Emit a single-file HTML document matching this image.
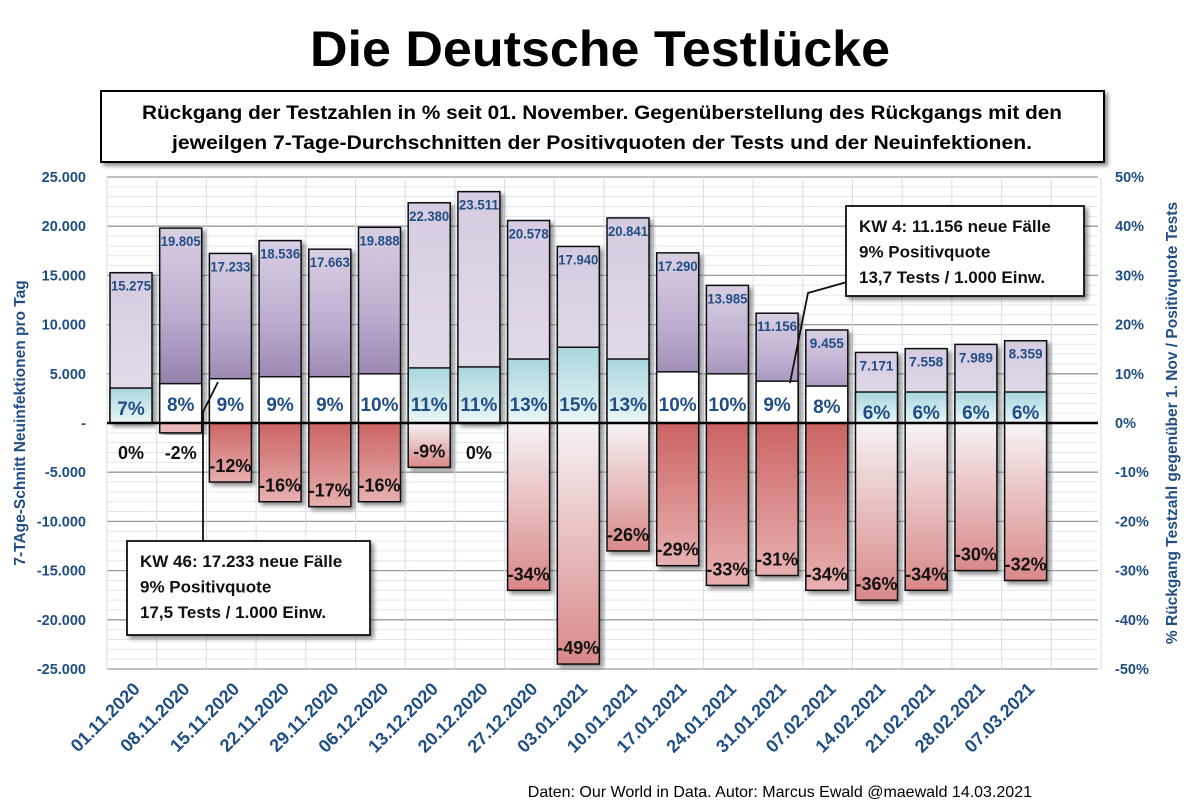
<!DOCTYPE html>
<html><head><meta charset="utf-8"><style>
body{margin:0;background:#fff;}
svg{display:block;font-family:"Liberation Sans",sans-serif;}
</style></head><body>
<svg id="chart" width="1200" height="804" viewBox="0 0 1200 804">
<defs>
<linearGradient id="purpleDark" x1="0" y1="0" x2="0" y2="1"><stop offset="0" stop-color="#d9cfe3"/><stop offset="0.45" stop-color="#bcaccf"/><stop offset="1" stop-color="#7f6a99"/></linearGradient>
<linearGradient id="purpleLight" x1="0" y1="0" x2="0" y2="1"><stop offset="0" stop-color="#d6cbe1"/><stop offset="1" stop-color="#e6dfec"/></linearGradient>
<linearGradient id="blueBox" x1="0" y1="0" x2="0" y2="1"><stop offset="0" stop-color="#a9d6de"/><stop offset="1" stop-color="#eaf5f7"/></linearGradient>
<linearGradient id="redStrong" x1="0" y1="0" x2="0" y2="1"><stop offset="0" stop-color="#cc6464"/><stop offset="1" stop-color="#e8b0b0"/></linearGradient>
<linearGradient id="redLight" x1="0" y1="0" x2="0" y2="1"><stop offset="0" stop-color="#f6f2f4"/><stop offset="1" stop-color="#d98888"/></linearGradient>
<filter id="sh" x="-10%" y="-10%" width="130%" height="130%"><feDropShadow dx="3" dy="3" stdDeviation="2" flood-color="#000" flood-opacity="0.45"/></filter>
</defs>
<text x="600" y="66" text-anchor="middle" font-size="50" font-weight="bold" textLength="580" lengthAdjust="spacingAndGlyphs">Die Deutsche Testlücke</text>
<rect x="101" y="91" width="1003" height="71" fill="#fff" stroke="#000" stroke-width="2" filter="url(#sh)"/>
<text x="602" y="119" text-anchor="middle" font-size="19" font-weight="bold" textLength="920" lengthAdjust="spacingAndGlyphs">Rückgang  der Testzahlen in % seit 01. November. Gegenüberstellung des Rückgangs mit den</text>
<text x="602" y="149" text-anchor="middle" font-size="19" font-weight="bold" textLength="860" lengthAdjust="spacingAndGlyphs">jeweilgen 7-Tage-Durchschnitten der Positivquoten der Tests und der Neuinfektionen.</text>
<g id="grid"></g>
<g id="bars"></g>
<g id="labels"></g>
<g id="axes"></g>
<text x="1032" y="797" text-anchor="end" font-size="16">Daten: Our World in Data. Autor: Marcus Ewald @maewald 14.03.2021</text>
</svg>
<script>
const categories=["01.11.2020","08.11.2020","15.11.2020","22.11.2020","29.11.2020","06.12.2020","13.12.2020","20.12.2020","27.12.2020","03.01.2021","10.01.2021","17.01.2021","24.01.2021","31.01.2021","07.02.2021","14.02.2021","21.02.2021","28.02.2021","07.03.2021"];
const cases=[15275,19805,17233,18536,17663,19888,22380,23511,20578,17940,20841,17290,13985,11156,9455,7171,7558,7989,8359];
const positivity=[7.1,8,9,9.4,9.4,10,11.2,11.4,13,15.4,13,10.4,10,8.5,7.5,6.3,6.3,6.3,6.3];
const testDecline=[0,-2,-12,-16,-17,-16,-9,0,-34,-49,-26,-29,-33,-31,-34,-36,-34,-30,-32];
const leftTicks=[25000,20000,15000,10000,5000,0,-5000,-10000,-15000,-20000,-25000];
const rightTicks=[50,40,30,20,10,0,-10,-20,-30,-40,-50];

const NS="http://www.w3.org/2000/svg";
const X0=107,SLOT=49.7,BW=42,Y0=423,PX_PER=492/50000;
const yL=v=>Y0-v*PX_PER;
const yR=p=>Y0-p*4.92;
const xL=i=>X0+i*SLOT+3;
const fmt=n=>n===0?"-":(n<0?"-":"")+Math.abs(n).toLocaleString("de-DE");
function mk(tag,attrs,parent,text){const e=document.createElementNS(NS,tag);for(const k in attrs)e.setAttribute(k,attrs[k]);if(text!==undefined)e.textContent=text;parent.appendChild(e);return e;}
const grid=document.getElementById("grid"),bars=document.getElementById("bars"),labels=document.getElementById("labels"),axes=document.getElementById("axes");
const BLUE="#1f4e85";
for(let v=-25000;v<=25000;v+=1000){
  const l=mk("line",{x1:X0,x2:1098,y1:yL(v),y2:yL(v),stroke:v%5000===0?"#9a9a9a":"#e3e6ee","stroke-width":v%5000===0?1.3:1},grid);
  
  
}
for(let i=0;i<=20;i++){
  const l=mk("line",{x1:X0+i*SLOT,x2:X0+i*SLOT,y1:yL(25000),y2:yL(-25000),stroke:"#d3deec","stroke-width":1},grid);
  
  
}
const blueIdx=p=>[0,6,7,8,9,10,15,16,17,18].includes(p);
const redStrongIdx=[1,2,3,4,5,11,12,13,14];
categories.forEach((c,i)=>{
  const x=xL(i),cx=x+BW/2;
  const isBlue=blueIdx(i);
  const top=yL(cases[i]);
  const r=mk("rect",{x:x,y:top,width:BW,height:Y0-top,fill:isBlue?"url(#purpleLight)":"url(#purpleDark)",stroke:"#111","stroke-width":1.5,filter:"url(#sh)"},bars);
  
  
  const pt=yR(positivity[i]);
  const b=mk("rect",{x:x,y:pt,width:BW,height:Y0-pt,fill:isBlue?"url(#blueBox)":"#fff",stroke:"#111","stroke-width":1.5},bars);
  
  
  const d=testDecline[i];
  if(d<0){
    const db=mk("rect",{x:x,y:Y0,width:BW,height:yR(d)-Y0,fill:redStrongIdx.includes(i)?"url(#redStrong)":"url(#redLight)",stroke:"#111","stroke-width":1.5,filter:"url(#sh)"},bars);
    if(i===1)db.setAttribute('fill','#eab8b8');
    
    
  }
  const cl=mk("text",{x:cx,y:top+18,"text-anchor":"middle","font-size":13.5,"font-weight":"bold",fill:BLUE,textLength:cases[i]>=10000?40:34,lengthAdjust:"spacingAndGlyphs"},labels,cases[i].toLocaleString("de-DE"));
  
  
  const pl=mk("text",{x:cx,y:Math.max(pt+27,411),"text-anchor":"middle","font-size":19,"font-weight":"bold",fill:BLUE},labels,Math.round(positivity[i])+"%");
  
  
  const bottom=yR(d);
  let ly=(d>-5)?Y0+36:bottom-10;
  if(d===-2) ly=Y0+36;
  const dl=mk("text",{x:cx,y:ly,"text-anchor":"middle","font-size":18,"font-weight":"bold",fill:"#111"},labels,d+"%");
  
  
  const xl=mk("text",{x:cx+10,y:690,"text-anchor":"end","font-size":18,"font-weight":"bold",fill:BLUE,transform:`rotate(-45 ${cx+10} 690)`},labels,c);
  
  
});
const z=mk("line",{x1:X0,x2:1098,y1:Y0,y2:Y0,stroke:"#000","stroke-width":2.5},axes);


leftTicks.forEach(v=>{
  const t=mk("text",{x:86,y:yL(v)+5,"text-anchor":"end","font-size":14.5,"font-weight":"bold",fill:BLUE},axes,fmt(v));
  
  
});
rightTicks.forEach(v=>{
  const t=mk("text",{x:1115,y:yR(v)+5,"font-size":14.5,"font-weight":"bold",fill:BLUE},axes,v+"%");
  
  
});
const yt=mk("text",{x:0,y:0,"text-anchor":"middle","font-size":15.5,"font-weight":"bold",fill:BLUE,transform:"translate(25 423) rotate(-90)"},axes,"7-TAge-Schnitt Neuinfektionen pro Tag");


const yt2=mk("text",{x:0,y:0,"text-anchor":"middle","font-size":15.5,"font-weight":"bold",fill:BLUE,transform:"translate(1177 423) rotate(-90)"},axes,"% Rückgang Testzahl gegenüber 1. Nov / Positivquote Tests");


const l1=mk("polyline",{points:"218,382 203,412 203,541",fill:"none",stroke:"#111","stroke-width":1.8},axes);


const l2=mk("polyline",{points:"790,383 808,293 847,282",fill:"none",stroke:"#111","stroke-width":1.8},axes);


function callout(x,y,w,h,lines,name){
  const g=mk("g",{},axes);
  
  
  mk("rect",{x:x,y:y,width:w,height:h,fill:"#fff",stroke:"#111","stroke-width":1.8,filter:"url(#sh)"},g);
  lines.forEach((s,k)=>mk("text",{x:x+13,y:y+26+k*25.5,"font-size":17,"font-weight":"bold",fill:"#111"},g,s));
}
callout(127,541,243,94,["KW 46: 17.233 neue Fälle","9% Positivquote","17,5 Tests / 1.000 Einw."],"callout-kw46");
callout(846,206,238,90,["KW 4: 11.156 neue Fälle","9% Positivquote","13,7 Tests / 1.000 Einw."],"callout-kw4");
</script>
</body></html>
